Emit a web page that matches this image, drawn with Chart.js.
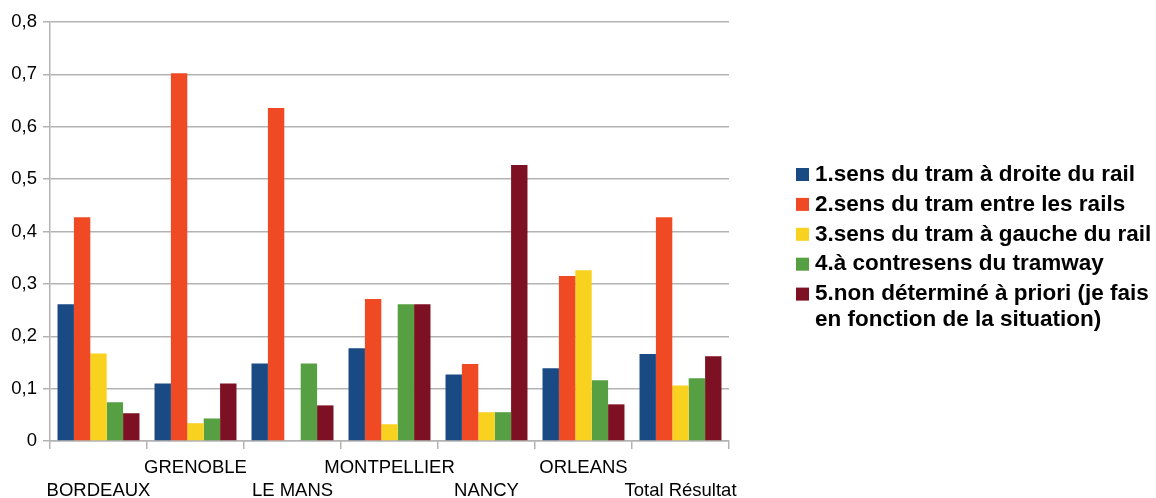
<!DOCTYPE html>
<html>
<head>
<meta charset="utf-8">
<script src="https://cdn.jsdelivr.net/npm/chart.js@4/dist/chart.umd.min.js"></script>
<style>
  html, body { margin: 0; padding: 0; background: #ffffff; }
  #wrap { width: 1156px; height: 498px; position: relative; }
</style>
</head>
<body>
<div id="wrap"><canvas id="c" width="1156" height="498"></canvas></div>
<script>
const categories = ["BORDEAUX", "GRENOBLE", "LE MANS", "MONTPELLIER", "NANCY", "ORLEANS", "Total Résultat"];
const seriesNames = [
  "1.sens du tram à droite du rail",
  "2.sens du tram entre les rails",
  "3.sens du tram à gauche du rail",
  "4.à contresens du tramway",
  "5.non déterminé à priori (je fais en fonction de la situation)"
];
const s1 = [0.261, 0.110, 0.148, 0.177, 0.127, 0.139, 0.166];
const s2 = [0.427, 0.702, 0.636, 0.271, 0.147, 0.315, 0.427];
const s3 = [0.167, 0.034, 0.000, 0.032, 0.055, 0.326, 0.106];
const s4 = [0.074, 0.043, 0.148, 0.261, 0.055, 0.116, 0.120];
const s5 = [0.053, 0.110, 0.068, 0.261, 0.527, 0.070, 0.162];
const yTicks = [0, 0.1, 0.2, 0.3, 0.4, 0.5, 0.6, 0.7, 0.8];

const colors = ["#194a84", "#ef4a24", "#f9d21f", "#579f43", "#7e1023"];
const seriesValues = [s1, s2, s3, s4, s5];

const FONT = "'Liberation Sans', Arial, sans-serif";
const GRID = "#b3b3b3";

const legendPlugin = {
  id: 'sideLegend',
  afterDraw(chart) {
    const ctx = chart.ctx;
    const boxX = 796, boxSize = 13, textX = 815;
    const firstY = 174.5, step = 29.9, lineStep = 25.5;
    const maxW = chart.width - textX + 4;
    ctx.save();
    ctx.font = "bold 22.5px " + FONT;
    ctx.textBaseline = 'middle';
    ctx.textAlign = 'left';
    let y = firstY;
    chart.data.datasets.forEach((ds, i) => {
      ctx.fillStyle = ds.backgroundColor;
      ctx.fillRect(boxX, y - boxSize / 2, boxSize, boxSize);
      ctx.fillStyle = '#000000';
      const words = ds.label.split(' ');
      const lines = [];
      let cur = '';
      words.forEach(w => {
        const test = cur ? cur + ' ' + w : w;
        if (ctx.measureText(test).width > maxW && cur) { lines.push(cur); cur = w; }
        else cur = test;
      });
      if (cur) lines.push(cur);
      lines.forEach((ln, k) => {
        ctx.fillText(ln, textX, y + k * lineStep);
      });
      y += step + (lines.length - 1) * lineStep;
    });
    ctx.restore();
  }
};

new Chart(document.getElementById('c'), {
  type: 'bar',
  data: {
    labels: categories,
    datasets: seriesValues.map((vals, i) => ({
      label: seriesNames[i],
      data: vals,
      backgroundColor: colors[i],
      borderWidth: 0,
      categoryPercentage: 0.845,
      barPercentage: 1.0
    }))
  },
  options: {
    responsive: false,
    animation: false,
    devicePixelRatio: 1,
    layout: { padding: { left: 0, top: 22, right: 427, bottom: 0 } },
    plugins: {
      legend: { display: false },
      tooltip: { enabled: false }
    },
    scales: {
      x: {
        grid: {
          offset: true,
          drawOnChartArea: false,
          drawTicks: true,
          tickLength: 8,
          color: GRID,
          lineWidth: 1.5
        },
        border: { color: GRID, width: 1.5 },
        ticks: {
          autoSkip: false,
          maxRotation: 0,
          minRotation: 0,
          padding: 7,
          color: '#000000',
          font: { family: FONT, size: 18.5, lineHeight: 1.27 },
          callback: function (value, index) {
            const lab = this.getLabelForValue(value);
            return index % 2 === 0 ? ['', lab] : [lab];
          }
        },
        afterFit(scale) { scale.height = 57; }
      },
      y: {
        min: 0,
        max: 0.8,
        afterBuildTicks(scale) { scale.ticks = yTicks.map(v => ({ value: v })); },
        grid: {
          color: GRID,
          lineWidth: 1.5,
          drawTicks: true,
          tickLength: 7
        },
        border: { color: GRID, width: 1.5 },
        ticks: {
          padding: 6,
          color: '#000000',
          font: { family: FONT, size: 18.5 },
          callback: v => v === 0 ? '0' : v.toFixed(1).replace('.', ',')
        },
        afterFit(scale) { scale.width = 50; }
      }
    }
  },
  plugins: [legendPlugin]
});
</script>
</body>
</html>
